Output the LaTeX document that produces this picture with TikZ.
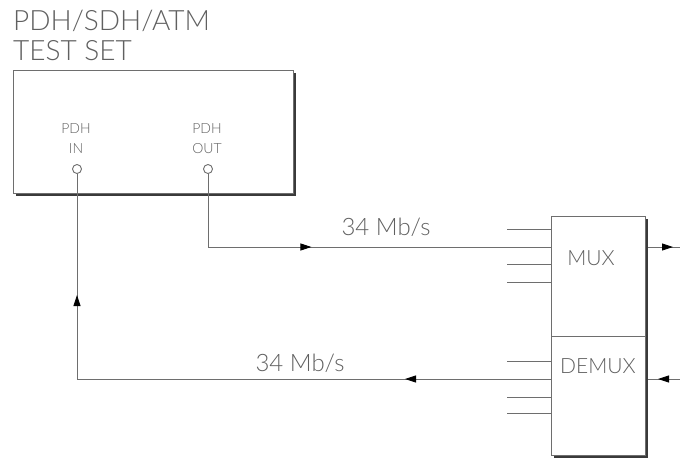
\documentclass[tikz,border=0pt]{standalone}
\usepackage{fontspec}
\setmainfont{Lato Light}
\usetikzlibrary{arrows.meta,decorations.markings,shadows,calc}
\definecolor{ln}{HTML}{6E6E6E}
\definecolor{tx}{HTML}{606060}
\definecolor{sh}{HTML}{3A3A3A}
\begin{document}
\begin{tikzpicture}[x=1pt,y=-1pt,
  line/.style={draw=ln, line width=0.9pt},
  boxstyle/.style={draw=ln, line width=0.9pt, fill=white, inner sep=0pt,
     drop shadow={shadow xshift=3pt, shadow yshift=-3pt, fill=sh, opacity=1}},
  port/.style={circle, draw=ln, line width=0.9pt, fill=white, inner sep=0pt, minimum size=9pt},
  lbl/.style={text=tx, inner sep=0pt},
  midarrow/.style={postaction={decorate, decoration={markings,
     mark=at position #1 with {\arrow[black]{Triangle[length=11pt,width=7pt]}}}}}
]
\useasboundingbox (0,0) rectangle (680,459);
% title
\node[lbl, anchor=base west, font=\fontsize{28}{30}\selectfont] (t1) at (13,30) {PDH/SDH/ATM};
\node[lbl, anchor=base west, font=\fontsize{28}{30}\selectfont] (t2) at (13,60) {TEST SET};
% test set box
\node[boxstyle, minimum width=280pt, minimum height=123pt, anchor=north west] (ts) at (13,70) {};
\node[lbl, anchor=base, font=\fontsize{14}{16}\selectfont] (inl1) at (76,133) {PDH};
\node[lbl, anchor=base, font=\fontsize{14}{16}\selectfont] (inl2) at (76,153) {IN};
\node[lbl, anchor=base, font=\fontsize{14}{16}\selectfont] (outl1) at (207,133) {PDH};
\node[lbl, anchor=base, font=\fontsize{14}{16}\selectfont] (outl2) at (207,153) {OUT};
\node[port] (in) at (77,169) {};
\node[port] (out) at (208,169) {};
% mux/demux box
\node[draw=none, fill=sh, minimum width=94pt, minimum height=239pt, inner sep=0pt, anchor=north west] (shd) at (554,219) {};
\node[draw=ln, line width=0.9pt, fill=white, minimum width=94pt, minimum height=120pt, inner sep=0pt, anchor=north west] (mux) at (551,216) {};
\node[draw=ln, line width=0.9pt, fill=white, minimum width=94pt, minimum height=119pt, inner sep=0pt, anchor=north west] (demux) at (551,336) {};
\node[lbl, font=\fontsize{21}{23}\selectfont, anchor=base] (muxl) at (591,265) {MUX};
\node[lbl, font=\fontsize{21}{23}\selectfont, anchor=base] (demuxl) at (598,373) {DEMUX};
% coordinates
\coordinate (muxin) at (551,247);
\coordinate (demin) at (551,379);
\coordinate (muxout) at (680,247);
\coordinate (demsrc) at (680,379);
\coordinate (muxo) at (648,247);
\coordinate (demo) at (648,379);
% main connectors
\draw[line, midarrow=176.5pt] (out.south) |- (muxin);
\draw[line, midarrow=146pt, postaction={decorate, decoration={markings,
     mark=at position 558pt with {\arrow[black]{Triangle[length=11pt,width=7pt]}}}}] (demin) -| (in.south);
\node[lbl, font=\fontsize{24}{26}\selectfont, anchor=base] (r1) at (386,235) {34 Mb/s};
\node[lbl, font=\fontsize{24}{26}\selectfont, anchor=base] (r2) at (300,371) {34 Mb/s};
% short tributary lines
\foreach \yy in {229,264,282} {\draw[line] (mux.west |- 0,\yy) -- ++(-44,0);}
\foreach \yy in {361,397,413} {\draw[line] (demux.west |- 0,\yy) -- ++(-44,0);}
% outputs
\draw[line, midarrow=25pt] (muxo) -- (muxout);
\draw[line, midarrow=22pt] (demsrc) -- (demo);
\end{tikzpicture}
\end{document}
